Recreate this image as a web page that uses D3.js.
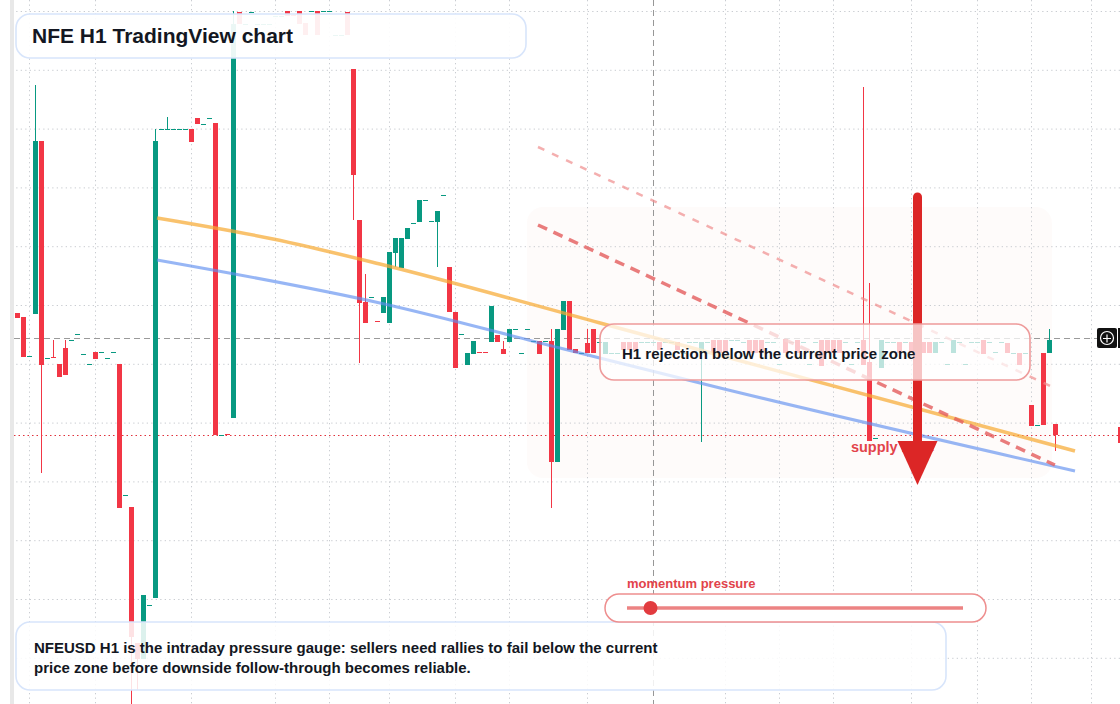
<!DOCTYPE html>
<html>
<head>
<meta charset="utf-8">
<script src="https://cdn.jsdelivr.net/npm/d3@7"></script>
<style>
  html, body { margin: 0; padding: 0; background: #fff; }
  svg { display: block; font-family: "Liberation Sans", Arial, Helvetica, sans-serif; }
</style>
</head>
<body>
<div id="chart"></div>
<script>
const W = 1120, H = 704;

// NFEUSD hourly bars, [open, high, low, close]; a single number is a flat bar
const candles = [
  [0.1402,0.1402,0.1397,0.1397],[0.1398,0.1398,0.1358,0.1358],0.1359,[0.1401,0.1630,0.1401,0.1574],
  [0.1574,0.1574,0.1242,0.1350],0.1357,[0.1358,0.1375,0.1357,0.1357],[0.1351,0.1351,0.1338,0.1338],
  [0.1367,0.1375,0.1340,0.1340],0.1375,
  0.1381,0.1361,0.1351,[0.1363,0.1363,0.1356,0.1356],0.1363,0.1357,0.1363,
  [0.1351,0.1351,0.1207,0.1207],0.1220,[0.1208,0.1208,0.0995,0.1078],
  [0.1072,0.1072,0.1025,0.1056],[0.1056,0.1120,0.1056,0.1120],0.1110,[0.1117,0.1586,0.1117,0.1574],
  0.1586,[0.1586,0.1598,0.1586,0.1586],0.1586,0.1586,0.1586,[0.1586,0.1586,0.1573,0.1573],
  [0.1597,0.1597,0.1591,0.1591],0.1591,0.1597,[0.1592,0.1592,0.1280,0.1280],0.1280,
  [0.1281,0.1281,0.1280,0.1280],[0.1297,0.1704,0.1297,0.1691],[0.1703,0.1703,0.1691,0.1691],0.1691,0.1703,
  0.1691,0.1691,0.1691,0.1699,0.1699,[0.1704,0.1704,0.1699,0.1699],[0.1700,0.1700,0.1699,0.1699],
  [0.1704,0.1704,0.1691,0.1691],[0.1692,0.1692,0.1680,0.1680],0.1704,
  [0.1704,0.1704,0.1680,0.1680],0.1704,0.1704,0.1680,0.1680,[0.1703,0.1703,0.1680,0.1680],
  [0.1646,0.1646,0.1495,0.1540],[0.1495,0.1495,0.1352,0.1412],[0.1413,0.1441,0.1392,0.1392],0.1418,
  [0.1394,0.1394,0.1393,0.1393],[0.1402,0.1418,0.1402,0.1418],[0.1392,0.1463,0.1392,0.1463],
  [0.1462,0.1477,0.1448,0.1477],[0.1447,0.1477,0.1447,0.1477],[0.1476,0.1487,0.1476,0.1487],0.1492,
  [0.1493,0.1515,0.1493,0.1515],0.1515,0.1494,
  [0.1493,0.1504,0.1448,0.1504],0.1520,[0.1448,0.1448,0.1403,0.1403],[0.1403,0.1403,0.1347,0.1347],0.1381,
  [0.1350,0.1362,0.1350,0.1362],[0.1361,0.1374,0.1361,0.1374],[0.1363,0.1363,0.1362,0.1362],
  [0.1363,0.1363,0.1362,0.1362],[0.1373,0.1409,0.1373,0.1409],
  [0.1380,0.1380,0.1373,0.1373],[0.1366,0.1374,0.1361,0.1361],[0.1373,0.1386,0.1373,0.1386],0.1386,0.1362,
  0.1386,0.1374,[0.1374,0.1374,0.1361,0.1361],0.1374,[0.1374,0.1386,0.1207,0.1253],
  [0.1253,0.1386,0.1253,0.1386],[0.1385,0.1414,0.1385,0.1414],[0.1414,0.1414,0.1365,0.1365],
  [0.1366,0.1366,0.1362,0.1362],0.1362,[0.1372,0.1386,0.1362,0.1362],[0.1386,0.1386,0.1362,0.1362],
  0.1373,[0.1361,0.1373,0.1361,0.1373],0.1362,
  0.1362,[0.1373,0.1373,0.1365,0.1365],[0.1373,0.1373,0.1365,0.1365],[0.1373,0.1373,0.1365,0.1365],
  0.1373,0.1373,0.1373,[0.1373,0.1373,0.1365,0.1365],0.1373,0.1373,
  [0.1373,0.1373,0.1365,0.1365],0.1362,0.1373,0.1373,[0.1362,0.1373,0.1273,0.1373],0.1373,
  [0.1375,0.1375,0.1362,0.1362],[0.1375,0.1375,0.1362,0.1362],[0.1375,0.1375,0.1362,0.1362],0.1375,
  0.1375,0.1373,[0.1375,0.1375,0.1362,0.1362],[0.1375,0.1375,0.1362,0.1362],[0.1375,0.1375,0.1362,0.1362],
  0.1373,0.1373,0.1351,[0.1376,0.1376,0.1362,0.1362],0.1373,
  [0.1375,0.1375,0.1362,0.1362],0.1373,0.1351,0.1373,[0.1375,0.1375,0.1349,0.1349],
  [0.1375,0.1375,0.1362,0.1362],[0.1375,0.1375,0.1362,0.1362],[0.1375,0.1375,0.1362,0.1362],0.1373,0.1351,
  0.1373,[0.1375,0.1628,0.1350,0.1350],[0.1353,0.1432,0.1274,0.1274],0.1277,[0.1347,0.1375,0.1347,0.1375],
  0.1373,0.1373,[0.1373,0.1373,0.1362,0.1362],0.1373,[0.1373,0.1373,0.1362,0.1362],
  [0.1373,0.1373,0.1362,0.1362],[0.1373,0.1373,0.1362,0.1362],[0.1373,0.1373,0.1362,0.1362],
  [0.1362,0.1373,0.1362,0.1373],0.1373,0.1351,[0.1362,0.1375,0.1362,0.1375],0.1373,0.1351,0.1373,
  0.1373,[0.1375,0.1375,0.1361,0.1361],0.1373,0.1363,0.1373,[0.1372,0.1372,0.1362,0.1362],0.1362,
  [0.1362,0.1362,0.1350,0.1350],0.1362,[0.1310,0.1310,0.1289,0.1289],
  0.1290,[0.1362,0.1362,0.1290,0.1290],[0.1362,0.1386,0.1362,0.1375],[0.1291,0.1291,0.1264,0.1280]
];

// grid positions
const priceTicks = [0.1704, 0.16452, 0.15864, 0.15276, 0.14688, 0.141, 0.13512, 0.12924, 0.12336, 0.11748, 0.1116, 0.10572];
const timeTicks = [2, 13, 29, 43, 52, 62, 73, 82, 95, 118, 127, 136, 149, 160, 169, 179];

const lastPrice = 0.1377;
const supportLevel = 0.1280;
const crosshairBar = 106;

// drawn lines: [bar, price]
const orangeTrend = [[23.25, 0.1497], [42.6, 0.1476], [60.4, 0.1451], [97.1, 0.1392], [113.75, 0.1365], [176.25, 0.1264]];
const blueTrend = [[23.25, 0.1455], [60.4, 0.1412], [90.4, 0.1367], [117.1, 0.1327], [176.25, 0.1244]];
const upperChannel = [[86.75, 0.1568], [172.1, 0.1329]];
const lowerChannel = [[86.75, 0.1490], [172.9, 0.1250]];

const zoneBars = [84.9, 172.4];
const zonePrices = [0.1508, 0.1237];
const arrowBar = 150;
const arrowPrices = [0.1522, 0.1230];
const supplyLabel = [138.9, 0.1263];
const momentum = 0.07;

const titleText = "NFE H1 TradingView chart";
const calloutText = "H1 rejection below the current price zone";
const noteLines = [
  "NFEUSD H1 is the intraday pressure gauge: sellers need rallies to fail below the current",
  "price zone before downside follow-through becomes reliable."
];

const UP = "#089981", DOWN = "#f23645";

const bars = candles.map((d, i) => {
  const v = typeof d === "number" ? [d, d, d, d] : d;
  return {i: i, o: v[0], h: v[1], l: v[2], c: v[3]};
});

const x = d3.scaleLinear().domain([0, 173]).range([17.5, 1055.5]);
const y = d3.scaleLinear().domain([0.1, 0.1715]).range([715, 0]);
const crisp = v => Math.round(v) + 0.5;

const svg = d3.select("#chart").append("svg")
  .attr("width", W).attr("height", H);

svg.append("rect").attr("width", W).attr("height", H).attr("fill", "#fff");

// supply zone shading
svg.append("rect")
  .attr("x", x(zoneBars[0])).attr("y", y(zonePrices[0]))
  .attr("width", x(zoneBars[1]) - x(zoneBars[0]))
  .attr("height", y(zonePrices[1]) - y(zonePrices[0]))
  .attr("rx", 16)
  .attr("fill", "#fbefe8").attr("opacity", 0.22);

// grid
const gy = svg.append("g")
  .attr("transform", `translate(${W},0)`)
  .call(d3.axisLeft(y).tickValues(priceTicks).tickSize(W - 14).tickFormat(""));
gy.select(".domain").remove();
gy.selectAll("line").attr("stroke", "#c9ccd1").attr("stroke-dasharray", "1.3,3.2");

const gx = svg.append("g")
  .call(d3.axisTop(x).tickValues(timeTicks).tickSize(-H).tickFormat("").offset(0));
gx.select(".domain").remove();
gx.selectAll("line").attr("stroke", "#c9ccd1").attr("stroke-dasharray", "1.3,3.2");

svg.append("rect").attr("x", 10).attr("y", 0).attr("width", 4).attr("height", H).attr("fill", "#e8e8e8");

// crosshair + levels
svg.append("line")
  .attr("x1", x(crosshairBar)).attr("x2", x(crosshairBar))
  .attr("y1", 0).attr("y2", H)
  .attr("stroke", "#979797").attr("stroke-dasharray", "6,4");

svg.append("line")
  .attr("x1", 14).attr("x2", 1097)
  .attr("y1", crisp(y(lastPrice))).attr("y2", crisp(y(lastPrice)))
  .attr("stroke", "#9a9a9a").attr("stroke-dasharray", "6,4");

svg.append("line")
  .attr("x1", 14).attr("x2", W)
  .attr("y1", crisp(y(supportLevel))).attr("y2", crisp(y(supportLevel)))
  .attr("stroke", "#e0323c").attr("stroke-dasharray", "1.5,3");

// candles
const cg = svg.append("g");
cg.selectAll(".wick").data(bars).join("line")
  .attr("class", "wick")
  .attr("x1", d => x(d.i)).attr("x2", d => x(d.i))
  .attr("y1", d => y(d.h)).attr("y2", d => y(d.l))
  .attr("stroke", d => d.c >= d.o ? UP : DOWN).attr("stroke-width", 1);

cg.selectAll(".body").data(bars).join("rect")
  .attr("class", "body")
  .attr("x", d => x(d.i) - 2.5).attr("width", 5)
  .attr("y", d => Math.round(y(Math.max(d.o, d.c))))
  .attr("height", d => Math.max(1, Math.round(Math.abs(y(d.o) - y(d.c)))))
  .attr("fill", d => d.c >= d.o ? UP : DOWN);

// trend lines
const path = d3.line().x(d => x(d[0])).y(d => y(d[1]));
const smooth = d3.line().x(d => x(d[0])).y(d => y(d[1])).curve(d3.curveMonotoneX);

svg.append("path").attr("d", smooth(orangeTrend))
  .attr("fill", "none").attr("stroke", "#f6ab35").attr("stroke-opacity", 0.72).attr("stroke-width", 3.5);
svg.append("path").attr("d", smooth(blueTrend))
  .attr("fill", "none").attr("stroke", "#5f8ff0").attr("stroke-opacity", 0.65).attr("stroke-width", 3);

svg.append("path").attr("d", path(upperChannel))
  .attr("fill", "none").attr("stroke", "#f08d8d").attr("stroke-opacity", 0.7)
  .attr("stroke-width", 2.5).attr("stroke-dasharray", "7,8.5");
svg.append("path").attr("d", path(lowerChannel))
  .attr("fill", "none").attr("stroke", "#e35d5d").attr("stroke-opacity", 0.8)
  .attr("stroke-width", 3.5).attr("stroke-dasharray", "10,7");

// supply label + arrow
svg.append("text")
  .attr("x", x(supplyLabel[0])).attr("y", y(supplyLabel[1]))
  .attr("fill", "#e2434b").attr("font-size", 14.5).attr("font-weight", 700)
  .text("supply zone");

const ax = x(arrowBar);
const headTop = y(arrowPrices[1]) - 44;
svg.append("line")
  .attr("x1", ax).attr("x2", ax)
  .attr("y1", y(arrowPrices[0]) + 4).attr("y2", headTop + 4)
  .attr("stroke", "#dc2626").attr("stroke-width", 9).attr("stroke-linecap", "round");
svg.append("path")
  .attr("d", `M${ax - 20},${headTop}L${ax + 20},${headTop}L${ax},${y(arrowPrices[1])}Z`)
  .attr("fill", "#dc2626");

// panels
function panel(x0, y0, x1, y1, stroke, alpha) {
  svg.append("rect")
    .attr("x", x0).attr("y", y0).attr("width", x1 - x0).attr("height", y1 - y0)
    .attr("rx", 14)
    .attr("fill", "#fff").attr("fill-opacity", alpha)
    .attr("stroke", stroke).attr("stroke-width", 1.6);
}

panel(600, 324, 1030, 380, "#ee9b9b", 0.73);
svg.append("text").attr("x", 622).attr("y", 359)
  .attr("fill", "#131722").attr("font-size", 15).attr("font-weight", 700)
  .text(calloutText);

panel(16, 14, 526, 58, "#d8e5fb", 0.92);
svg.append("text").attr("x", 32).attr("y", 43)
  .attr("fill", "#131722").attr("font-size", 21).attr("font-weight", 700)
  .text(titleText);

panel(16, 622, 946, 690, "#d8e5fb", 0.86);
svg.append("g").selectAll("text").data(noteLines).join("text")
  .attr("x", 34).attr("y", (d, i) => 653 + i * 20)
  .attr("fill", "#131722").attr("font-size", 15).attr("font-weight", 700)
  .text(d => d);

// momentum slider
const sx = d3.scaleLinear().domain([0, 1]).range([627, 963]);
svg.append("text").attr("x", 627).attr("y", 588)
  .attr("fill", "#e2434b").attr("font-size", 13).attr("font-weight", 700)
  .text("momentum pressure");
svg.append("rect")
  .attr("x", 605).attr("y", 594).attr("width", 381).attr("height", 28).attr("rx", 14)
  .attr("fill", "#fff").attr("stroke", "#ee8e8e").attr("stroke-width", 1.5);
svg.append("line")
  .attr("x1", sx(0)).attr("x2", sx(1)).attr("y1", 608).attr("y2", 608)
  .attr("stroke", "#ec8383").attr("stroke-width", 3.5);
svg.append("circle")
  .attr("cx", sx(momentum)).attr("cy", 608).attr("r", 7)
  .attr("fill", "#e23b3f");

// right edge widgets
const py = Math.round(y(lastPrice));
svg.append("rect").attr("x", 1097).attr("y", py - 10).attr("width", 20).attr("height", 20).attr("rx", 2).attr("fill", "#111");
svg.append("rect").attr("x", 1118).attr("y", py - 10).attr("width", 2).attr("height", 20).attr("fill", "#111");
svg.append("circle").attr("cx", 1107).attr("cy", py).attr("r", 6.5)
  .attr("fill", "none").attr("stroke", "#fff").attr("stroke-width", 1.2);
svg.append("path").attr("d", `M1103,${py + 0.5}H1111M1107,${py - 3.5}V${py + 4.5}`)
  .attr("stroke", "#fff").attr("stroke-width", 1.2);
svg.append("rect").attr("x", 1118).attr("y", y(supportLevel) - 8).attr("width", 2).attr("height", 16).attr("fill", DOWN);
</script>
</body>
</html>
